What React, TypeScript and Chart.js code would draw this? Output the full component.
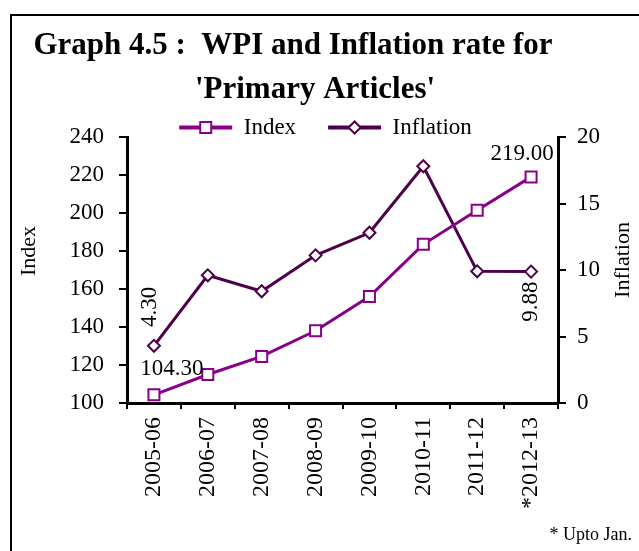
import { useEffect, useRef } from "react";
import { Chart, registerables } from "chart.js";

Chart.register(...registerables);

const CATEGORIES = ["2005-06", "2006-07", "2007-08", "2008-09", "2009-10", "2010-11", "2011-12", "*2012-13"];
const INDEX_VALUES = [104.3, 115.0, 124.5, 138.0, 156.0, 183.5, 201.5, 219.0];
const INFLATION_VALUES = [4.3, 9.6, 8.4, 11.1, 12.8, 17.8, 9.9, 9.88];
const INDEX_TICKS = [100, 120, 140, 160, 180, 200, 220, 240];
const INFLATION_TICKS = [0, 5, 10, 15, 20];
const TITLE_LINES = ["Graph 4.5 :  WPI and Inflation rate for", "'Primary Articles'"];
const FOOTNOTE = "* Upto Jan.";
const SERIES_NAMES = ["Index", "Inflation"];
const AXIS_TITLES = ["Index", "Inflation"];

const SERIF = "'Liberation Serif', 'Times New Roman', serif";
const INDEX_COLOR = "#880088";
const INFLATION_COLOR = "#4d0049";

function drawMarker(ctx: CanvasRenderingContext2D, style: string, x: number, y: number, color: string) {
  ctx.save();
  ctx.fillStyle = "#ffffff";
  ctx.strokeStyle = color;
  ctx.lineWidth = 2;
  ctx.beginPath();
  if (style === "rect") {
    ctx.rect(x - 5.5, y - 5.5, 11, 11);
  } else {
    ctx.moveTo(x - 6, y);
    ctx.lineTo(x, y - 6);
    ctx.lineTo(x + 6, y);
    ctx.lineTo(x, y + 6);
    ctx.closePath();
  }
  ctx.fill();
  ctx.stroke();
  ctx.restore();
}

const decorPlugin = {
  id: "decor",
  afterDraw(chart: any) {
    const ctx: CanvasRenderingContext2D = chart.ctx;
    ctx.save();
    // title
    ctx.fillStyle = "#000";
    ctx.textBaseline = "alphabetic";
    ctx.textAlign = "center";
    ctx.font = `bold 31px ${SERIF}`;
    ctx.fillText(TITLE_LINES[0], 293, 54);
    ctx.fillText(TITLE_LINES[1], 315, 98);
    // footnote
    ctx.font = `18px ${SERIF}`;
    ctx.textAlign = "right";
    ctx.fillText(FOOTNOTE, 632, 540);

    const rot = (text: string, x: number, y: number) => {
      ctx.save();
      ctx.translate(x, y);
      ctx.rotate(-Math.PI / 2);
      ctx.fillText(text, 0, 0);
      ctx.restore();
    };

    // axis titles (both read bottom-to-top)
    ctx.font = `22px ${SERIF}`;
    ctx.textAlign = "center";
    ctx.textBaseline = "middle";
    rot(AXIS_TITLES[0], 29, 251);
    rot(AXIS_TITLES[1], 623, 260);

    // legend markers
    const legend = chart.legend;
    if (legend && legend.legendHitBoxes) {
      const styles = ["rect", "rectRot"];
      const colors = [INDEX_COLOR, INFLATION_COLOR];
      legend.legendHitBoxes.forEach((hb: any, i: number) => {
        const bw = legend.options.labels.boxWidth;
        drawMarker(ctx, styles[i], hb.left + bw / 2, hb.top + hb.height / 2, colors[i]);
      });
    }

    // data labels
    ctx.font = `23px ${SERIF}`;
    ctx.textBaseline = "middle";
    ctx.textAlign = "center";
    const m0 = chart.getDatasetMeta(0).data;
    const m1 = chart.getDatasetMeta(1).data;
    const last = CATEGORIES.length - 1;
    ctx.fillText(INDEX_VALUES[0].toFixed(2), m0[0].x + 18, m0[0].y - 26);
    ctx.fillText(INDEX_VALUES[last].toFixed(2), m0[last].x - 9, m0[last].y - 23);
    rot(INFLATION_VALUES[0].toFixed(2), m1[0].x - 4, m1[0].y - 39);
    rot(INFLATION_VALUES[last].toFixed(2), m1[last].x, m1[last].y + 30);
    ctx.restore();
  },
};

export default function App() {
  const ref = useRef<HTMLCanvasElement | null>(null);

  useEffect(() => {
    if (!ref.current) return;
    const chart = new Chart(ref.current, {
      type: "line",
      data: {
        labels: CATEGORIES,
        datasets: [
          {
            label: SERIES_NAMES[0],
            data: INDEX_VALUES,
            yAxisID: "y",
            borderColor: INDEX_COLOR,
            backgroundColor: INDEX_COLOR,
            borderWidth: 3,
            pointStyle: "rect",
            pointRadius: 7.8,
            pointBorderWidth: 2,
            pointBackgroundColor: "#ffffff",
            pointBorderColor: INDEX_COLOR,
            tension: 0,
          },
          {
            label: SERIES_NAMES[1],
            data: INFLATION_VALUES,
            yAxisID: "y1",
            borderColor: INFLATION_COLOR,
            backgroundColor: INFLATION_COLOR,
            borderWidth: 3,
            pointStyle: "rectRot",
            pointRadius: 6,
            pointBorderWidth: 2,
            pointBackgroundColor: "#ffffff",
            pointBorderColor: INFLATION_COLOR,
            tension: 0,
          },
        ],
      },
      options: {
        responsive: false,
        animation: false,
        layout: { padding: { top: 84, left: 12, right: 0, bottom: 0 } },
        plugins: {
          title: { display: false },
          tooltip: { enabled: false },
          legend: {
            display: true,
            position: "top",
            maxHeight: 53,
            labels: {
              boxWidth: 53,
              boxHeight: 4,
              padding: 32,
              color: "#000",
              font: { family: SERIF, size: 23 },
              generateLabels: (c: any) =>
                c.data.datasets.map((ds: any, i: number) => ({
                  text: ds.label,
                  fillStyle: ds.borderColor,
                  strokeStyle: ds.borderColor,
                  lineWidth: 0,
                  hidden: false,
                  datasetIndex: i,
                  fontColor: "#000",
                })),
            },
          },
        },
        scales: {
          x: {
            offset: true,
            grid: { display: true, drawOnChartArea: false, offset: true, tickLength: 6, color: "#000", lineWidth: 2 },
            border: { display: true, color: "#000", width: 3 },
            ticks: {
              color: "#000",
              font: { family: SERIF, size: 24 },
              minRotation: 90,
              maxRotation: 90,
              padding: 8,
              autoSkip: false,
            },
            afterFit: (s: any) => {
              s.height = 148;
            },
          },
          y: {
            position: "left",
            min: INDEX_TICKS[0],
            max: INDEX_TICKS[INDEX_TICKS.length - 1],
            afterBuildTicks: (s: any) => {
              s.ticks = INDEX_TICKS.map((v) => ({ value: v }));
            },
            grid: { display: true, drawOnChartArea: false, tickLength: 8, color: "#000", lineWidth: 2 },
            border: { display: true, color: "#000", width: 3 },
            ticks: { color: "#000", font: { family: SERIF, size: 23 }, padding: 15 },
            title: { display: false, text: AXIS_TITLES[0] },
            afterFit: (s: any) => {
              s.width = 115;
            },
          },
          y1: {
            position: "right",
            min: INFLATION_TICKS[0],
            max: INFLATION_TICKS[INFLATION_TICKS.length - 1],
            afterBuildTicks: (s: any) => {
              s.ticks = INFLATION_TICKS.map((v) => ({ value: v }));
            },
            grid: { display: true, drawOnChartArea: false, tickLength: 8, color: "#000", lineWidth: 2 },
            border: { display: true, color: "#000", width: 3 },
            ticks: { color: "#000", font: { family: SERIF, size: 23 }, padding: 11 },
            title: { display: false, text: AXIS_TITLES[1] },
            afterFit: (s: any) => {
              s.width = 81;
            },
          },
        },
      },
      plugins: [decorPlugin],
    });
    return () => chart.destroy();
  }, []);

  return (
    <div style={{ position: "fixed", left: 0, top: 0, width: 639, height: 551, overflow: "hidden", background: "#fff" }}>
      <div
        style={{
          position: "absolute",
          left: 10,
          top: 14,
          width: 700,
          height: 600,
          border: "2px solid #000",
          boxSizing: "border-box",
        }}
      />
      <canvas ref={ref} width={639} height={551} style={{ position: "absolute", left: 0, top: 0, width: 639, height: 551 }} />
    </div>
  );
}
